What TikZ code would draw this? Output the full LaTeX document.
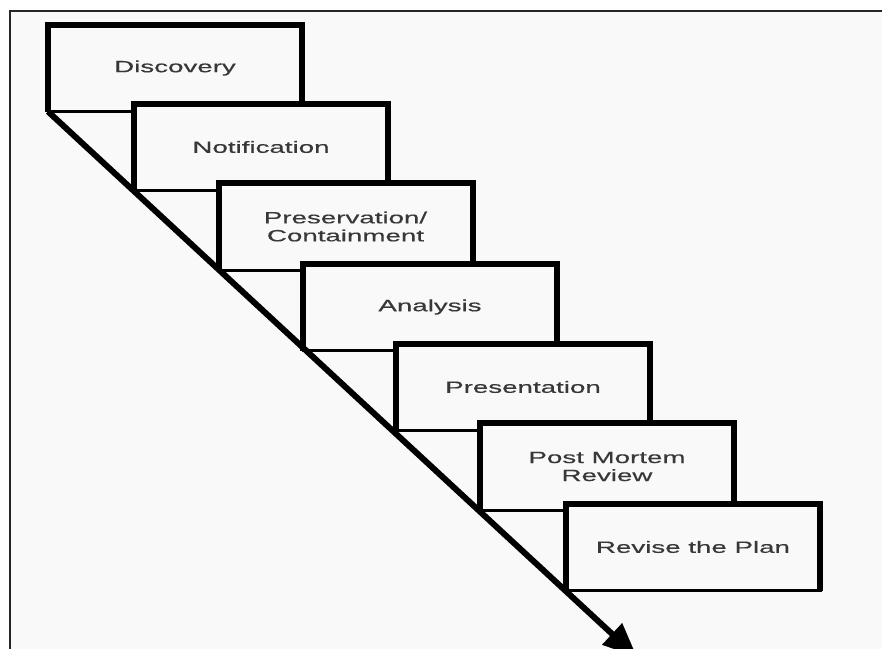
\documentclass[tikz,border=0pt]{standalone}
\usepackage{fontspec}
\usetikzlibrary{arrows.meta}
\newfontfamily\boxfont[FakeStretch=1.7,FakeBold=0.4]{Liberation Sans}
\definecolor{bgcol}{HTML}{F9F9F9}
\definecolor{txtcol}{HTML}{383838}
\tikzset{
  stepbox/.style={draw=black, line width=3pt, fill=bgcol, minimum width=254pt,
    minimum height=87pt, inner sep=0pt, outer sep=0pt,
    font=\boxfont\fontsize{16.3}{18}\selectfont, text=txtcol, align=center},
  thickedge/.style={line width=6pt, line join=miter},
  flowarrow/.style={line width=6pt, -{Triangle[length=34pt,width=28pt]}},
  frameline/.style={line width=2.2pt, draw=black!85}
}
\begin{document}
\begin{tikzpicture}[x=1pt,y=-1pt]
\useasboundingbox (0,0) rectangle (882,648);
\clip (0,0) rectangle (882,648);
\fill[white] (0,0) rectangle (882,648);
\draw[frameline, fill=bgcol] (10,11) rectangle (900,670);

\node[stepbox] (b1) at (175,68) {Discovery};
\draw[thickedge] (b1.south west) -- (b1.north west) -- (b1.north east) -- (b1.south east);
\node[stepbox] (b2) at (261,147) {Notification};
\draw[thickedge] (b2.south west) -- (b2.north west) -- (b2.north east) -- (b2.south east);
\node[stepbox] (b3) at (345.5,226.5) {Preservation/\\Containment};
\draw[thickedge] (b3.south west) -- (b3.north west) -- (b3.north east) -- (b3.south east);
\node[stepbox] (b4) at (430,307) {Analysis};
\draw[thickedge] (b4.south west) -- (b4.north west) -- (b4.north east) -- (b4.south east);
\node[stepbox] (b5) at (523,387) {Presentation};
\draw[thickedge] (b5.south west) -- (b5.north west) -- (b5.north east) -- (b5.south east);
\node[stepbox] (b6) at (607,466.5) {Post Mortem\\Review};
\draw[thickedge] (b6.south west) -- (b6.north west) -- (b6.north east) -- (b6.south east);
\node[stepbox] (b7) at (693,547) {Revise the Plan};
\draw[thickedge] (b7.south west) -- (b7.north west) -- (b7.north east) -- (b7.south east);

\coordinate (tip) at (637,657);
\draw[flowarrow] (b1.south west) -- (tip);
\end{tikzpicture}
\end{document}
